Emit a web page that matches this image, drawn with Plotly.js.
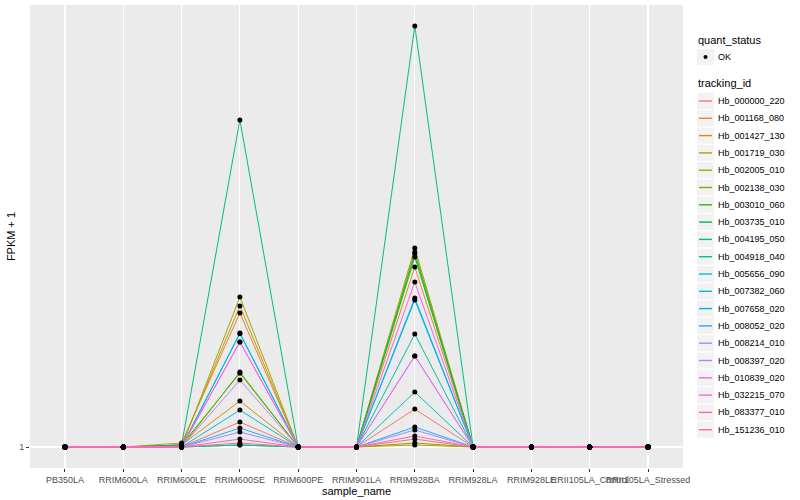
<!DOCTYPE html>
<html><head><meta charset="utf-8">
<script src="https://cdn.plot.ly/plotly-3.0.1.min.js"></script>
<style>body{margin:0;background:#fff}</style>
</head><body><div id="chart" style="width:800px;height:500px"></div>
<script>
const samples = ['PB350LA','RRIM600LA','RRIM600LE','RRIM600SE','RRIM600PE','RRIM901LA','RRIM928BA','RRIM928LA','RRIM928LE','RRII105LA_Control','RRII105LA_Stressed'];
const trackingIds = ['Hb_000000_220','Hb_001168_080','Hb_001427_130','Hb_001719_030','Hb_002005_010','Hb_002138_030','Hb_003010_060','Hb_003735_010','Hb_004195_050','Hb_004918_040','Hb_005656_090','Hb_007382_060','Hb_007658_020','Hb_008052_020','Hb_008214_010','Hb_008397_020','Hb_010839_020','Hb_032215_070','Hb_083377_010','Hb_151236_010'];
const colors = ['#F8766D','#EA8331','#D89000','#C09B00','#A3A500','#7CAE00','#39B600','#00BB4E','#00BF7D','#00C1A3','#00BFC4','#00BAE0','#00B0F6','#35A2FF','#9590FF','#C77CFF','#E76BF3','#FA62DB','#FF62BC','#FF6C91'];
const quantStatus = ['OK'];

// FPKM + 1 per sample (order of samples)
const Hb_000000_220 = [1,1,1,1.131,1,1,1.206,1,1,1,1];
const Hb_001168_080 = [1,1,1.02,1.939,1,1,2.433,1,1,1,1];
const Hb_001427_130 = [1,1,1.01,1.255,1,1,1.010,1,1,1,1];
const Hb_001719_030 = [1,1,1.01,2.007,1,1,2.620,1,1,1,1];
const Hb_002005_010 = [1,1,1,2.098,1,1,2.673,1,1,1,1];
const Hb_002138_030 = [1,1,1,1.448,1,1,1.020,1,1,1,1];
const Hb_003010_060 = [1,1,1.01,1.440,1,1,2.600,1,1,1,1];
const Hb_003735_010 = [1,1,1,1.010,1,1,2.556,1,1,1,1];
const Hb_004195_050 = [1,1,1.01,5.030,1,1,8.000,1,1,1,1];
const Hb_004918_040 = [1,1,1,1.010,1,1,1.747,1,1,1,1];
const Hb_005656_090 = [1,1,1,1.756,1,1,1.312,1,1,1,1];
const Hb_007382_060 = [1,1,1,1.200,1,1,2.087,1,1,1,1];
const Hb_007658_020 = [1,1,1,1.750,1,1,2.067,1,1,1,1];
const Hb_008052_020 = [1,1,1,1.098,1,1,1.104,1,1,1,1];
const Hb_008214_010 = [1,1,1,1.077,1,1,1.088,1,1,1,1];
const Hb_008397_020 = [1,1,1,1.392,1,1,1.567,1,1,1,1];
const Hb_010839_020 = [1,1,1,1.680,1,1,1.567,1,1,1,1];
const Hb_032215_070 = [1,1,1,1.680,1,1,2.259,1,1,1,1];
const Hb_083377_010 = [1,1,1,1.040,1,1,1.056,1,1,1,1];
const Hb_151236_010 = [1,1,1,1.020,1,1,1.040,1,1,1,1];

const seriesValues = [Hb_000000_220,Hb_001168_080,Hb_001427_130,Hb_001719_030,Hb_002005_010,Hb_002138_030,Hb_003010_060,Hb_003735_010,Hb_004195_050,Hb_004918_040,Hb_005656_090,Hb_007382_060,Hb_007658_020,Hb_008052_020,Hb_008214_010,Hb_008397_020,Hb_010839_020,Hb_032215_070,Hb_083377_010,Hb_151236_010];

const W = 800, H = 500, M = {l: 30, r: 117, t: 5, b: 32};
const PW = W - M.l - M.r, PH = H - M.t - M.b;
const fx = px => (px - M.l) / PW;       // pixel -> paper x
const fy = py => (H - M.b - py) / PH;   // pixel -> paper y

const traces = trackingIds.map((id, i) => ({
  type: 'scatter', mode: 'lines', x: samples, y: seriesValues[i], name: id,
  line: {color: colors[i], width: 1}, showlegend: false
}));
const allX = [], allY = [];
seriesValues.forEach(v => v.forEach((y, j) => { allX.push(samples[j]); allY.push(y); }));
traces.push({
  type: 'scatter', mode: 'markers', x: allX, y: allY, name: quantStatus[0],
  marker: {color: '#000', size: 5}, showlegend: false
});

// legend (ggplot style) built from the names and colours
const shapes = [], annotations = [];
const LX = 697, KEY = 17, TX = 716;
annotations.push({xref: 'paper', yref: 'paper', x: fx(LX - 1), y: fy(40), xanchor: 'left', yanchor: 'middle',
  text: 'quant_status', showarrow: false, font: {size: 11, color: '#000'}});
shapes.push({type: 'rect', xref: 'paper', yref: 'paper', x0: fx(LX), x1: fx(LX + KEY), y0: fy(49), y1: fy(65),
  fillcolor: '#F2F2F2', line: {width: 0}, layer: 'below'});
shapes.push({type: 'circle', xref: 'paper', yref: 'paper', x0: fx(LX + 6.5), x1: fx(LX + 10.5), y0: fy(55), y1: fy(59),
  fillcolor: '#000', line: {width: 0}});
annotations.push({xref: 'paper', yref: 'paper', x: fx(TX), y: fy(57), xanchor: 'left', yanchor: 'middle',
  text: quantStatus[0], showarrow: false, font: {size: 9, color: '#000'}});
annotations.push({xref: 'paper', yref: 'paper', x: fx(LX - 1), y: fy(83), xanchor: 'left', yanchor: 'middle',
  text: 'tracking_id', showarrow: false, font: {size: 11, color: '#000'}});
const STEP = 17.3, Y0 = 101;
trackingIds.forEach((id, i) => {
  const cy = Y0 + i * STEP;
  shapes.push({type: 'rect', xref: 'paper', yref: 'paper', x0: fx(LX), x1: fx(LX + KEY), y0: fy(cy - 8), y1: fy(cy + 8),
    fillcolor: '#F2F2F2', line: {width: 0}, layer: 'below'});
  shapes.push({type: 'line', xref: 'paper', yref: 'paper', x0: fx(LX + 2), x1: fx(LX + KEY - 2), y0: fy(cy), y1: fy(cy),
    line: {color: colors[i], width: 1.4}});
  annotations.push({xref: 'paper', yref: 'paper', x: fx(TX), y: fy(cy), xanchor: 'left', yanchor: 'middle',
    text: id, showarrow: false, font: {size: 9, color: '#000'}});
});

const layout = {
  width: W, height: H, margin: M,
  paper_bgcolor: '#fff', plot_bgcolor: '#EBEBEB',
  font: {family: 'Liberation Sans, Arial, sans-serif', color: '#000', size: 11},
  showlegend: false,
  xaxis: {
    type: 'category', categoryorder: 'array', categoryarray: samples,
    range: [-0.6, 10.6], showgrid: true, gridcolor: '#fff', gridwidth: 1.1,
    ticks: 'outside', ticklen: 3, tickcolor: '#333', tickwidth: 1,
    tickfont: {size: 9, color: '#4D4D4D'}, tickangle: 0,
    title: {text: 'sample_name', font: {size: 11}, standoff: 0},
    zeroline: false, showline: false, automargin: false, fixedrange: true
  },
  yaxis: {
    type: 'log', range: [-0.045, 0.948], tickvals: [1], ticktext: ['1'],
    showgrid: true, gridcolor: '#fff', gridwidth: 1.1,
    ticks: 'outside', ticklen: 3, tickcolor: '#333', tickwidth: 1,
    tickfont: {size: 9, color: '#4D4D4D'},
    title: {text: 'FPKM + 1', font: {size: 11}, standoff: 1},
    zeroline: false, showline: false, automargin: false, fixedrange: true
  },
  shapes: shapes, annotations: annotations
};
Plotly.newPlot('chart', traces, layout, {displayModeBar: false, staticPlot: true});
</script></body></html>
